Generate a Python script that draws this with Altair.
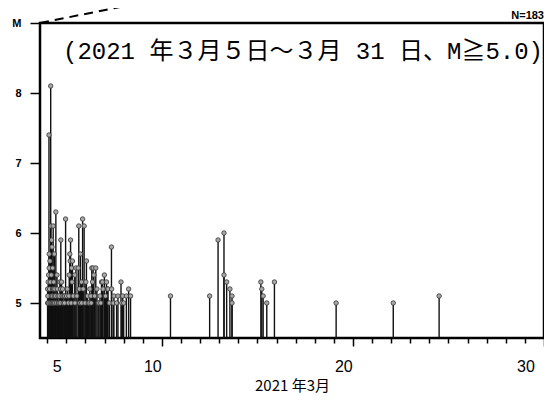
import altair as alt
import pandas as pd

# Events: day of March (JST, fractional) and magnitude
days = [
    5.02, 5.02, 5.03, 5.05, 5.05, 5.07, 5.09, 5.10, 5.10, 5.12, 5.14, 5.14, 5.16,
    5.18, 5.19, 5.20, 5.21, 5.21, 5.23, 5.25, 5.25, 5.27, 5.28, 5.28, 5.30, 5.31,
    5.33, 5.34, 5.34, 5.37, 5.37, 5.39, 5.40, 5.43, 5.45, 5.48, 5.51, 5.53, 5.56,
    5.58, 5.61, 5.63, 5.66, 5.68, 5.70, 5.71, 5.75, 5.78, 5.80, 5.83, 5.87, 5.90,
    5.92, 5.96, 6.01, 6.05, 6.10, 6.13, 6.15, 6.18, 6.20, 6.22, 6.25, 6.27, 6.30,
    6.32, 6.36, 6.44, 6.45, 6.50, 6.55, 6.62, 6.65, 6.68, 6.71, 6.74, 6.79, 6.80,
    6.85, 6.88, 6.93, 6.98, 7.02, 7.05, 7.11, 7.15, 7.19, 7.23, 7.28, 7.30, 7.33,
    7.37, 7.40, 7.44, 7.48, 7.54, 7.60, 7.66, 7.70, 7.76, 7.80, 7.84, 7.89, 7.92,
    7.99, 8.05, 8.10, 8.15, 8.18, 8.25, 8.36, 8.37, 8.45, 8.49, 8.63, 8.70, 8.86,
    8.90, 8.95, 9.00, 9.14, 9.26, 9.36,
    11.45, 13.50, 13.94, 14.25, 14.25, 14.39, 14.56, 14.67, 14.67,
    16.18, 16.23, 16.30, 16.49, 16.89, 20.12, 23.11, 25.51,
]
mags = [
    5.2, 5.0, 5.1, 5.0, 5.3, 5.4, 7.4, 5.7, 5.5, 5.2, 5.6, 5.0, 5.3,
    8.1, 6.1, 5.0, 5.4, 5.1, 5.9, 5.8, 5.0, 5.1, 5.5, 5.2, 5.0, 6.1,
    5.2, 5.3, 5.0, 5.7, 5.1, 5.0, 5.2, 5.1, 6.3, 5.0, 5.4, 5.2, 5.1,
    5.0, 5.0, 5.1, 5.3, 5.0, 5.2, 5.9, 5.3, 5.1, 5.2, 5.0, 5.1, 5.0,
    5.1, 6.2, 5.1, 5.2, 5.0, 5.1, 5.4, 5.7, 5.6, 5.9, 5.0, 5.5, 5.3,
    5.6, 5.1, 5.4, 5.0, 5.5, 5.1, 5.5, 6.1, 5.2, 5.0, 5.7, 5.3, 5.0,
    6.2, 5.2, 6.1, 5.0, 5.3, 5.6, 5.1, 5.0, 5.0, 5.2, 5.1, 5.0, 5.5,
    5.3, 5.5, 5.4, 5.1, 5.5, 5.2, 5.0, 5.0, 5.1, 5.0, 5.3, 5.3, 5.2,
    5.4, 5.1, 5.3, 5.2, 5.2, 5.0, 5.8, 5.2, 5.0, 5.1, 5.0, 5.1, 5.3,
    5.0, 5.1, 5.0, 5.1, 5.2, 5.1,
    5.1, 5.1, 5.9, 6.0, 5.4, 5.3, 5.2, 5.1, 5.0,
    5.3, 5.2, 5.1, 5.0, 5.3, 5.0, 5.0, 5.1,
]

x_tick_values = list(range(5, 32))
x_label_ticks = [6, 11, 21, 31]
x_label_texts = ["5", "10", "20", "30"]
y_tick_values = [5, 6, 7, 8, 9]

title_text = "(2021 年３月５日～３月 31 日、M≧5.0)"
count_text = "N=183"
x_title = "2021 年3月"

df = pd.DataFrame({"day": days, "M": mags})
df["base"] = 4.5

label_expr = " : ".join(
    f"datum.value == {v} ? '{t}'" for v, t in zip(x_label_ticks, x_label_texts)
) + " : ''"
long_test = " || ".join(f"datum.value == {v}" for v in [11, 21, 31])

x_axis = alt.Axis(
    values=x_tick_values,
    labelExpr=label_expr,
    labelOverlap=False,
    labelFlush=True,
    labelOffset=-9.6,
    labelFontSize=16,
    labelFont="Liberation Sans",
    labelColor="black",
    labelPadding=alt.condition(long_test, alt.value(12), alt.value(15)),
    tickSize=alt.condition(long_test, alt.value(8), alt.value(5)),
    tickColor="black",
    tickWidth=1.5,
    domain=False,
    grid=False,
    title=x_title,
    titleFont="Noto Sans CJK JP",
    titleFontSize=15,
    titleFontWeight="normal",
    titleColor="black",
    titlePadding=4,
)
y_axis = alt.Axis(
    values=y_tick_values,
    labelExpr="datum.value == 9 ? 'M' : datum.label",
    labelFont="Liberation Sans",
    labelFontWeight="bold",
    labelFontSize=11,
    labelColor="black",
    labelPadding=9,
    tickSize=10,
    tickColor="black",
    tickWidth=1.5,
    domain=False,
    grid=False,
    title=None,
)

xs = alt.Scale(domain=[4.62, 31.0], nice=False, zero=False)
ys = alt.Scale(domain=[4.5, 9.0], nice=False, zero=False)

base = alt.Chart(df).encode(
    x=alt.X("day:Q", scale=xs, axis=x_axis),
    y=alt.Y("M:Q", scale=ys, axis=y_axis),
)
stems = base.mark_rule(color="#111111", strokeWidth=1.4).encode(y2="base:Q")
dots = base.mark_circle(size=20, color="#a8a8a8", stroke="#333333", strokeWidth=0.8, opacity=1)

ann = pd.DataFrame({"t": [title_text]})
title_mark = alt.Chart(ann).mark_text(
    font="Liberation Mono, Noto Sans CJK JP", fontSize=24, color="black",
    align="center", baseline="middle"
).encode(x=alt.value(263), y=alt.value(29), text="t:N")

cnt = pd.DataFrame({"t": [count_text]})
count_mark = alt.Chart(cnt).mark_text(
    font="Liberation Sans", fontSize=11, fontWeight="bold", color="black",
    align="right", baseline="middle"
).encode(x=alt.value(504), y=alt.value(-7), text="t:N")

dash = alt.Chart(ann).mark_rule(color="black", strokeWidth=2, strokeDash=[9, 6]).encode(
    x=alt.value(0), y=alt.value(0), x2=alt.value(120), y2=alt.value(-24)
)

chart = (
    alt.layer(stems, dots, title_mark, count_mark, dash)
    .properties(
        width=504,
        height=315,
        autosize=alt.AutoSizeParams(type="none"),
        padding={"left": 32, "top": 15, "right": 0, "bottom": 56},
        background="white",
    )
    .configure_view(stroke="black", strokeWidth=2.5)
)

chart.save("out.html", embed_options={"renderer": "svg", "actions": False})
